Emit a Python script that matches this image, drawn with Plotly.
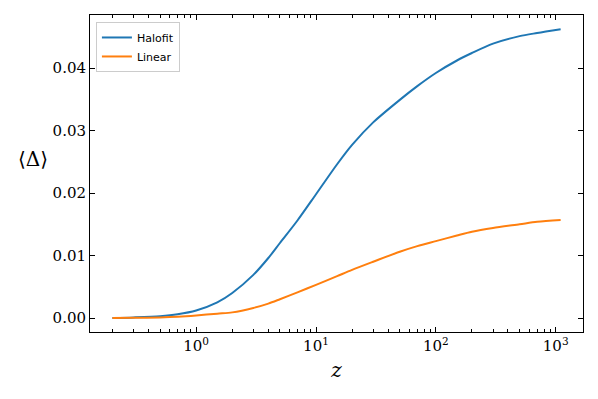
import plotly.graph_objects as go

# redshift sample points and the mean of Delta
z = [0.2, 0.3, 0.5, 0.7, 1, 1.5, 2, 3, 4, 5, 7, 10, 15, 20, 30, 50, 70,
     100, 150, 200, 300, 500, 700, 1100]
halofit = [0.0000, 0.0001, 0.0003, 0.0006, 0.0012, 0.0025, 0.0040, 0.0069,
           0.0096, 0.0120, 0.0156, 0.0198, 0.0246, 0.0277, 0.0313, 0.0349,
           0.0371, 0.0392, 0.0412, 0.0424, 0.0439, 0.0451, 0.0456, 0.0462]
linear = [0.0000, 0.00003, 0.0001, 0.0002, 0.0004, 0.0007, 0.0009, 0.0016,
          0.0023, 0.0030, 0.0041, 0.0053, 0.0067, 0.0077, 0.0090, 0.0106,
          0.0115, 0.0123, 0.0132, 0.0138, 0.0144, 0.0150, 0.0154, 0.0157]

x_ticks = [1, 10, 100, 1000]
x_labels = ["10<sup>0</sup>", "10<sup>1</sup>", "10<sup>2</sup>", "10<sup>3</sup>"]
y_ticks = [0.0, 0.01, 0.02, 0.03, 0.04]
y_labels = ["0.00", "0.01", "0.02", "0.03", "0.04"]

minor_vals = [m * 10 ** e for e in range(-1, 4) for m in range(2, 10)]

serif = "DejaVu Serif"

fig = go.Figure()
fig.add_trace(go.Scatter(x=z, y=halofit, mode="lines", name="Halofit",
                         line=dict(color="#1f77b4", width=2, shape="spline", smoothing=0.8)))
fig.add_trace(go.Scatter(x=z, y=linear, mode="lines", name="Linear",
                         line=dict(color="#ff7f0e", width=2, shape="spline", smoothing=0.8)))

# page body adds an 8px offset, so the figure is drawn 8px smaller
fig.update_layout(
    width=590, height=391,
    margin=dict(l=82, r=15, t=7, b=67),
    plot_bgcolor="white", paper_bgcolor="white",
    showlegend=True,
    legend=dict(x=0.012, y=0.978, xanchor="left", yanchor="top",
                bgcolor="rgba(255,255,255,0.8)", bordercolor="#cccccc",
                borderwidth=1, font=dict(family="DejaVu Sans", size=11, color="black"),
                itemwidth=30, tracegroupgap=0),
    font=dict(family=serif, color="black"),
)

fig.update_xaxes(
    type="log", range=[-0.886, 3.228],
    tickmode="array", tickvals=x_ticks, ticktext=x_labels,
    ticks="inside", ticklen=5, tickwidth=1, tickcolor="black",
    minor=dict(tickmode="array", tickvals=minor_vals, ticks="inside",
               ticklen=3, tickwidth=0.8, tickcolor="black", showgrid=False),
    showline=True, linecolor="black", linewidth=1, mirror="ticks",
    showgrid=False, zeroline=False,
    tickfont=dict(family=serif, size=15),
    title=dict(text="<i>z</i>", font=dict(family=serif, size=20), standoff=8),
)
fig.update_yaxes(
    range=[-0.00224, 0.04848],
    tickmode="array", tickvals=y_ticks, ticktext=y_labels,
    ticks="inside", ticklen=5, tickwidth=1, tickcolor="black",
    showline=True, linecolor="black", linewidth=1, mirror="ticks",
    showgrid=False, zeroline=False,
    tickfont=dict(family=serif, size=15),
)

fig.add_annotation(text="⟨Δ⟩", xref="paper", yref="paper", x=-0.115, y=0.545,
                   xanchor="center", yanchor="middle", showarrow=False,
                   font=dict(family=serif, size=20, color="black"))

fig.write_html("out.html")
